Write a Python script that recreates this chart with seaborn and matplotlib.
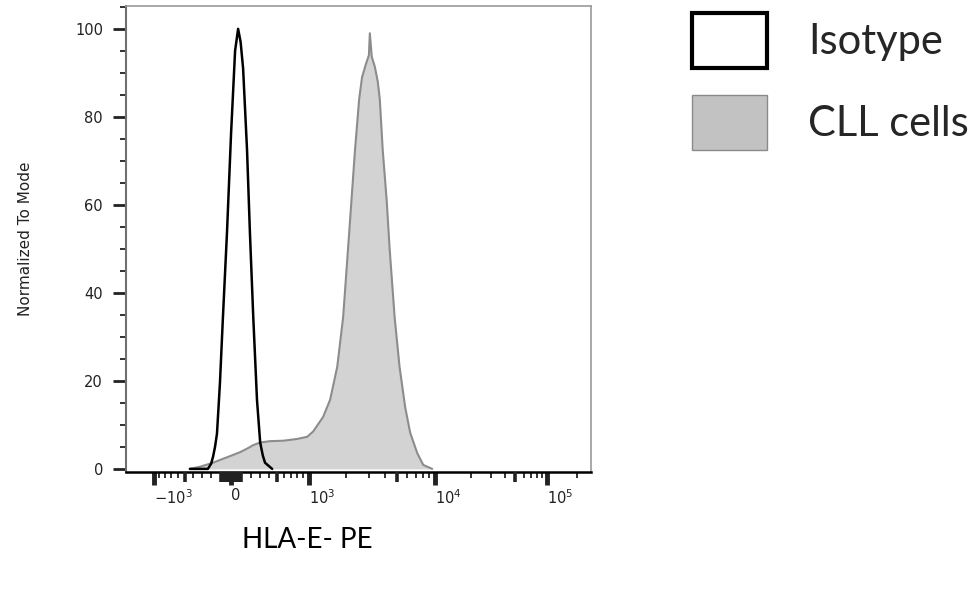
import numpy as np
import seaborn as sns
import matplotlib.pyplot as plt
from matplotlib.patches import Patch
from matplotlib.ticker import FixedLocator, FixedFormatter, MultipleLocator

# fluorescence intensity (HLA-E PE) vs % of mode
iso_x = [-440, -235, -200, -180, -160, -140, -110, -80, -40, 0, 40, 70, 95, 120, 160, 190,
         225, 265, 300, 330, 355, 440]
iso_y = [0, 0, 1.2, 2.8, 5, 8, 19.5, 34.5, 53.6, 76, 95, 100, 97, 91, 72.5, 53.6,
         34.5, 15.7, 6, 3, 1.4, 0]

cll_x = [-440, -320, -180, -90, -10, 90, 160, 225, 300, 415, 585, 795, 975, 1094, 1318, 1499,
         1705, 1896, 2111, 2343, 2522, 2655, 2845, 3000, 3050, 3160, 3335, 3515, 3645, 3840,
         4125, 4350, 4760, 5205, 5770, 6325, 7200, 8050, 9530]
cll_y = [0, 0.5, 1.4, 2.2, 2.9, 3.8, 4.6, 5.4, 6.0, 6.3, 6.4, 6.8, 7.3, 8.5, 11.8, 15.7,
         23.2, 34.5, 53.6, 72.5, 84, 89, 92, 94, 99, 93.6, 91.4, 88, 84, 72.5,
         61, 50, 34.5, 23.2, 14, 8.2, 3.6, 0.9, 0]

tick_vals = [-1e3, 0, 1e3, 1e4, 1e5]
tick_labels = [r'$-10^{3}$', '0', r'$10^{3}$', r'$10^{4}$', r'$10^{5}$']
minor_vals = ([-900, -800, -700, -600, -400, -300, -200, 200, 300, 400, 600, 700, 800, 900]
              + [k * 10 ** n for n in (3, 4) for k in (2, 3, 4, 6, 7, 8, 9)] + [2e5])
mid_vals = [-500, 500, 5e3, 5e4] + [v for v in range(-100, 101, 10) if v != 0]
legend_labels = ['Isotype', 'CLL cells']

# biexponential-like display axis
C, A = 645.0, 0.028


def fwd(x):
    s = np.arcsinh(np.asarray(x, float) / C)
    return s - A * s * np.abs(s)


def inv(p):
    p = np.clip(np.asarray(p, float), -8.9, 8.9)
    s = np.sign(p) * (1 - np.sqrt(1 - 4 * A * np.abs(p))) / (2 * A)
    return C * np.sinh(s)


sns.set_style('white')
plt.rcParams['font.family'] = ['DejaVu Sans']

fig = plt.figure(figsize=(9.75, 5.91), dpi=100)
ax = fig.add_axes([0.1292, 0.2014, 0.4769, 0.7885])
ax.set_xscale('function', functions=(fwd, inv))

ax.fill_between(cll_x, cll_y, 0, color='#d3d3d3', lw=0, zorder=1)
sns.lineplot(x=cll_x, y=cll_y, ax=ax, color='#8c8c8c', lw=1.5, zorder=2)
sns.lineplot(x=iso_x, y=iso_y, ax=ax, color='black', lw=1.8, zorder=3)

xlim = (-1670, 2.8e5)
ax.set_xlim(*xlim)
ax.set_ylim(-0.7, 105.2)

ax.xaxis.set_major_locator(FixedLocator(tick_vals))
ax.xaxis.set_major_formatter(FixedFormatter(tick_labels))
ax.xaxis.set_minor_locator(FixedLocator(minor_vals))
ax.set_yticks(range(0, 101, 20))
ax.yaxis.set_minor_locator(MultipleLocator(5))

ax.tick_params(axis='y', which='major', left=True, length=9.5, width=2, pad=7,
               labelsize=10.5, colors='#222222')
ax.tick_params(axis='y', which='minor', left=True, length=4, width=1.3, color='#222222')
ax.tick_params(axis='x', which='major', bottom=True, length=9.5, width=3.5, pad=2,
               labelsize=10.5, colors='#222222')
ax.tick_params(axis='x', which='minor', bottom=True, length=4, width=1.3, color='#222222')
for lbl in ax.get_xticklabels():
    lbl.set_ha('left')

for side in ['top', 'right']:
    ax.spines[side].set_color('#9a9a9a')
    ax.spines[side].set_linewidth(1.2)
ax.spines['left'].set_color('#707070')
ax.spines['left'].set_linewidth(1.5)
ax.spines['bottom'].set_color('black')
ax.spines['bottom'].set_linewidth(1.8)

# medium-length ticks on an overlay axis
ax2 = fig.add_axes(ax.get_position(), frameon=False)
ax2.set_xscale('function', functions=(fwd, inv))
ax2.set_xlim(*xlim)
ax2.set_xticks(mid_vals)
ax2.set_xticklabels([])
ax2.set_yticks([])
ax2.minorticks_off()
ax2.patch.set_alpha(0)
ax2.tick_params(axis='x', bottom=True, length=7, width=2.6, color='#222222')

ax.set_ylabel('Normalized To Mode', fontsize=11, color='#222222')
ax.yaxis.set_label_coords(-0.217, 0.5)
ax.yaxis.label.set_va('center')
ax.set_xlabel('HLA-E- PE', fontsize=20, family=['Lato', 'DejaVu Sans'], color='black')
ax.xaxis.set_label_coords(0.391, -0.146)
ax.xaxis.label.set_va('center')

handles = [Patch(facecolor='white', edgecolor='black', linewidth=3),
           Patch(facecolor='#c2c2c2', edgecolor='#8a8a8a', linewidth=1)]
fig.legend(handles, legend_labels, loc='upper left', bbox_to_anchor=(692 / 975, 1 - 13 / 591),
           frameon=False, prop={'family': ['Lato', 'DejaVu Sans'], 'size': 30},
           handlelength=1.8, handleheight=1.66, handletextpad=0.98, labelspacing=0.64,
           borderpad=0, borderaxespad=0)

fig.savefig('out.png', dpi=100)
